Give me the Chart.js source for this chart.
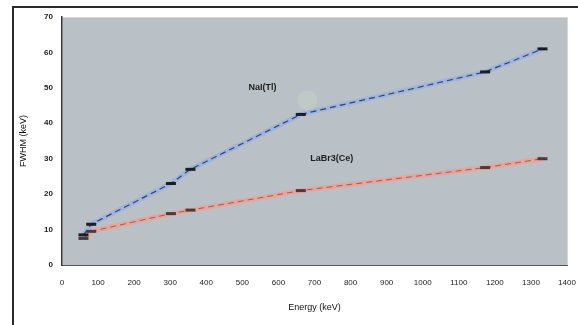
<!DOCTYPE html>
<html>
<head>
<meta charset="utf-8">
<script src="https://cdn.jsdelivr.net/npm/chart.js@4.4.1/dist/chart.umd.min.js"></script>
<style>
  html, body { margin: 0; padding: 0; background: #fff; }
  #wrap { width: 578px; height: 325px; position: relative; }
</style>
</head>
<body>
<div id="wrap"><canvas id="fwhmChart" width="578" height="325"></canvas></div>
<script>
// energies in keV
const energies = [59.5, 81, 302, 356, 662, 1173, 1332];
const naiFwhm = [8.5, 11.5, 23, 27, 42.5, 54.5, 61];
const labrFwhm = [7.5, 9.5, 14.5, 15.5, 21, 27.5, 30];
const xTicks = [0, 100, 200, 300, 400, 500, 600, 700, 800, 900, 1000, 1100, 1200, 1300, 1400];
const yTicks = [0, 10, 20, 30, 40, 50, 60, 70];
const curveLabels = [
    { text: "NaI(Tl)", x: 556, y: 50 },
    { text: "LaBr3(Ce)", x: 748, y: 30 }
];

function toPoints(ys) {
    return energies.map((e, i) => ({ x: e, y: ys[i] }));
}

const frameAndBg = {
    id: "frameAndBg",
    beforeDraw(chart) {
        const { ctx, chartArea: a } = chart;
        ctx.save();
        // outer frame
        ctx.strokeStyle = "#2b2b2b";
        ctx.lineWidth = 2;
        ctx.strokeRect(13, 7, 700, 400);
        // plot background
        ctx.fillStyle = "#b9c1c6";
        ctx.fillRect(a.left, a.top, a.right - a.left, a.bottom - a.top);
        ctx.strokeStyle = "#d4d8da";
        ctx.lineWidth = 1;
        ctx.strokeRect(a.left + 0.5, a.top + 0.5, a.right - a.left, a.bottom - a.top);
        ctx.restore();
    },
    afterDatasetsDraw(chart) {
        const { ctx, scales } = chart;
        ctx.save();
        // faint callout blob next to NaI label
        const cx = scales.x.getPixelForValue(680);
        const cy = scales.y.getPixelForValue(46.5);
        ctx.fillStyle = "rgba(205,218,198,0.35)";
        ctx.beginPath();
        ctx.arc(cx, cy, 10, 0, Math.PI * 2);
        ctx.fill();
        ctx.font = "bold 9px 'Liberation Sans', Arial, sans-serif";
        ctx.fillStyle = "#1e1e1e";
        ctx.textAlign = "center";
        ctx.textBaseline = "middle";
        curveLabels.forEach(l => {
            const px = scales.x.getPixelForValue(l.x);
            const py = scales.y.getPixelForValue(l.y);
            ctx.fillText(l.text, px, py);
        });
        ctx.restore();
    }
};

const ctx = document.getElementById("fwhmChart").getContext("2d");
new Chart(ctx, {
    type: "scatter",
    data: {
        datasets: [
            {
                label: "NaI(Tl)",
                data: toPoints(naiFwhm),
                order: 2,
                showLine: true,
                borderColor: "#9fb4de",
                borderWidth: 5,
                pointRadius: 0
            },
            {
                label: "NaI(Tl) dash",
                data: toPoints(naiFwhm),
                order: 0,
                showLine: true,
                borderColor: "#3a4260",
                borderWidth: 1.2,
                borderDash: [6, 4],
                pointStyle: "line",
                pointRadius: 5,
                pointBorderWidth: 3,
                pointBorderColor: "#1c1c24",
                pointBackgroundColor: "#1c1c24"
            },
            {
                label: "LaBr3(Ce)",
                data: toPoints(labrFwhm),
                order: 3,
                showLine: true,
                borderColor: "#e6a69c",
                borderWidth: 5,
                pointRadius: 0
            },
            {
                label: "LaBr3(Ce) dash",
                data: toPoints(labrFwhm),
                order: 1,
                showLine: true,
                borderColor: "#8e6260",
                borderWidth: 1,
                borderDash: [6, 4],
                pointStyle: "line",
                pointRadius: 5,
                pointBorderWidth: 3,
                pointBorderColor: "#4a3a3a",
                pointBackgroundColor: "#4a3a3a"
            }
        ]
    },
    options: {
        responsive: false,
        animation: false,
        layout: { padding: { left: 14, right: 11, top: 17, bottom: 8 } },
        plugins: { legend: { display: false }, tooltip: { enabled: false } },
        scales: {
            x: {
                type: "linear",
                min: 0,
                max: 1400,
                afterBuildTicks(scale) { scale.ticks = xTicks.map(v => ({ value: v })); },
                afterFit(scale) { scale.height = 52; scale.paddingLeft = 0; scale.paddingRight = 0; },
                grid: { display: false, drawTicks: true, tickLength: 4, tickColor: "#444" },
                border: { display: true, color: "#555", width: 1 },
                ticks: {
                    color: "#222",
                    font: { size: 8, family: "'Liberation Sans', Arial, sans-serif" },
                    padding: 9,
                    maxRotation: 0,
                    autoSkip: false,
                    callback: v => String(v)
                },
                title: {
                    display: true,
                    text: "Energy (keV)",
                    color: "#111",
                    font: { size: 9, family: "'Liberation Sans', Arial, sans-serif" },
                    padding: { top: 2 }
                }
            },
            y: {
                type: "linear",
                min: 0,
                max: 70,
                afterBuildTicks(scale) { scale.ticks = yTicks.map(v => ({ value: v })); },
                afterFit(scale) { scale.width = 48; },
                grid: { display: false, drawTicks: true, tickLength: 5, tickColor: "#444" },
                border: { display: true, color: "#333", width: 1.5 },
                ticks: {
                    color: "#222",
                    font: { size: 8, weight: "bold", family: "'Liberation Sans', Arial, sans-serif" },
                    padding: 4
                },
                title: {
                    display: true,
                    text: "FWHM (keV)",
                    color: "#111",
                    font: { size: 9, family: "'Liberation Sans', Arial, sans-serif" },
                    padding: { bottom: 1 }
                }
            }
        }
    },
    plugins: [frameAndBg]
});
</script>
</body>
</html>
